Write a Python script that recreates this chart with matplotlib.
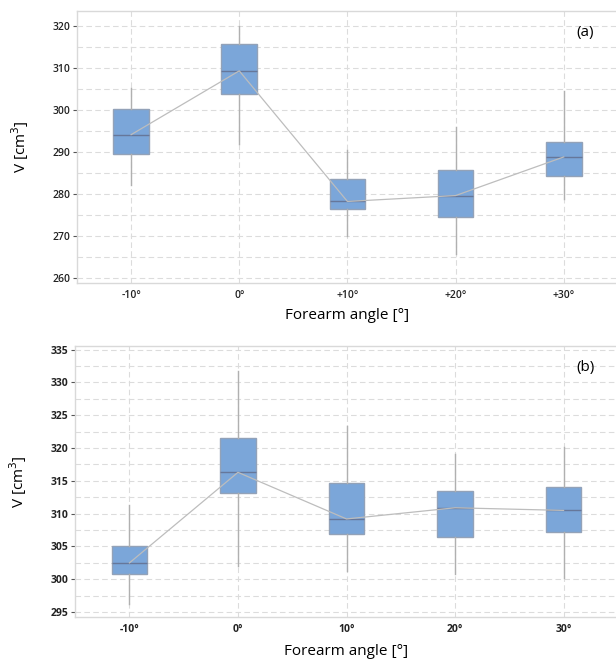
import matplotlib
matplotlib.use("Agg")
import matplotlib.pyplot as plt
import numpy as np

# Box statistics per forearm angle: whisker low, Q1, median, Q3, whisker high
labels_a = ["-10°", "0°", "+10°", "+20°", "+30°"]
wlo_a = [282.3, 292.1, 270.1, 265.9, 278.8]
q1_a = [289.5, 304.0, 276.4, 274.6, 284.4]
med_a = [294.2, 309.4, 278.3, 279.7, 288.9]
q3_a = [300.3, 315.8, 283.6, 285.9, 292.5]
whi_a = [305.4, 320.2, 290.5, 296.0, 304.6]

labels_b = ["-10°", "0°", "10°", "20°", "30°"]
wlo_b = [296.3, 302.1, 301.2, 300.75, 300.2]
q1_b = [300.75, 313.1, 306.9, 306.4, 307.2]
med_b = [302.5, 316.3, 309.2, 310.9, 310.5]
q3_b = [305.0, 321.5, 314.7, 313.4, 314.1]
whi_b = [311.3, 331.8, 323.4, 319.1, 320.1]

BOX_FACE = "#7ba6d9"
BOX_EDGE = "#93a2b8"
MED_COL = "#66779a"
WHISK = "#b0b0b0"
GRID = "#dcdcdc"
FRAME = "#d9d9d9"
FONT = "Open Sans"

fig = plt.figure(figsize=(6.16, 6.61), dpi=100)
ax_a = fig.add_axes([0.125, 0.572, 0.878, 0.411])
ax_b = fig.add_axes([0.122, 0.067, 0.881, 0.410])


def draw_panel(ax, labels, wlo, q1, med, q3, whi, ylim, major, minor, tag, bold, xpad):
    stats = []
    for i in range(len(labels)):
        stats.append(dict(label=labels[i], whislo=wlo[i], q1=q1[i], med=med[i],
                          q3=q3[i], whishi=whi[i], fliers=[]))
    pos = np.arange(len(labels))
    ax.bxp(stats, positions=pos, widths=0.33, patch_artist=True, showcaps=False,
           boxprops=dict(facecolor=BOX_FACE, edgecolor=BOX_EDGE, linewidth=1.0),
           medianprops=dict(color=MED_COL, linewidth=1.0),
           whiskerprops=dict(color=WHISK, linewidth=1.0), zorder=3)
    ax.plot(pos, med, color="#bdbdbd", linewidth=0.9, zorder=4)

    ax.set_xlim(-0.5, len(labels) - 0.5)
    ax.set_ylim(*ylim)
    ax.set_yticks(major)
    ax.set_yticks(minor, minor=True)
    ax.set_xticks(pos)
    ax.set_xticklabels(labels)
    ax.grid(True, which="both", axis="y", linestyle=(0, (5, 3)), color=GRID, linewidth=0.8, zorder=0)
    ax.grid(True, which="major", axis="x", linestyle=(0, (5, 3)), color=GRID, linewidth=0.8, zorder=0)
    ax.set_axisbelow(True)
    for s in ax.spines.values():
        s.set_color(FRAME)
        s.set_linewidth(1.0)
    ax.tick_params(axis="y", which="major", length=3, width=0.8, color="#555555", pad=2)
    ax.tick_params(axis="y", which="minor", length=0)
    ax.tick_params(axis="x", length=0, pad=5)
    weight = "bold" if bold else "semibold"
    for t in ax.get_yticklabels() + ax.get_xticklabels():
        t.set_fontfamily(FONT)
        t.set_fontsize(7.5)
        t.set_fontweight(weight)
        t.set_color("#222222")
    ax.set_ylabel("V [cm$^3$]", fontfamily=FONT, fontsize=11, labelpad=15)
    ax.set_xlabel("Forearm angle [°]", fontfamily=FONT, fontsize=11, labelpad=xpad)
    ax.text(0.94, 0.92, tag, transform=ax.transAxes, fontfamily=FONT, fontsize=11,
            ha="center", va="center")


draw_panel(ax_a, labels_a, wlo_a, q1_a, med_a, q3_a, whi_a,
           (258.9, 323.6), np.arange(260, 321, 10), np.arange(265, 321, 10), "(a)", False, 5)
draw_panel(ax_b, labels_b, wlo_b, q1_b, med_b, q3_b, whi_b,
           (294.3, 335.6), np.arange(295, 336, 5), np.arange(297.5, 336, 5), "(b)", True, 7)

fig.savefig("out.png", dpi=100)
